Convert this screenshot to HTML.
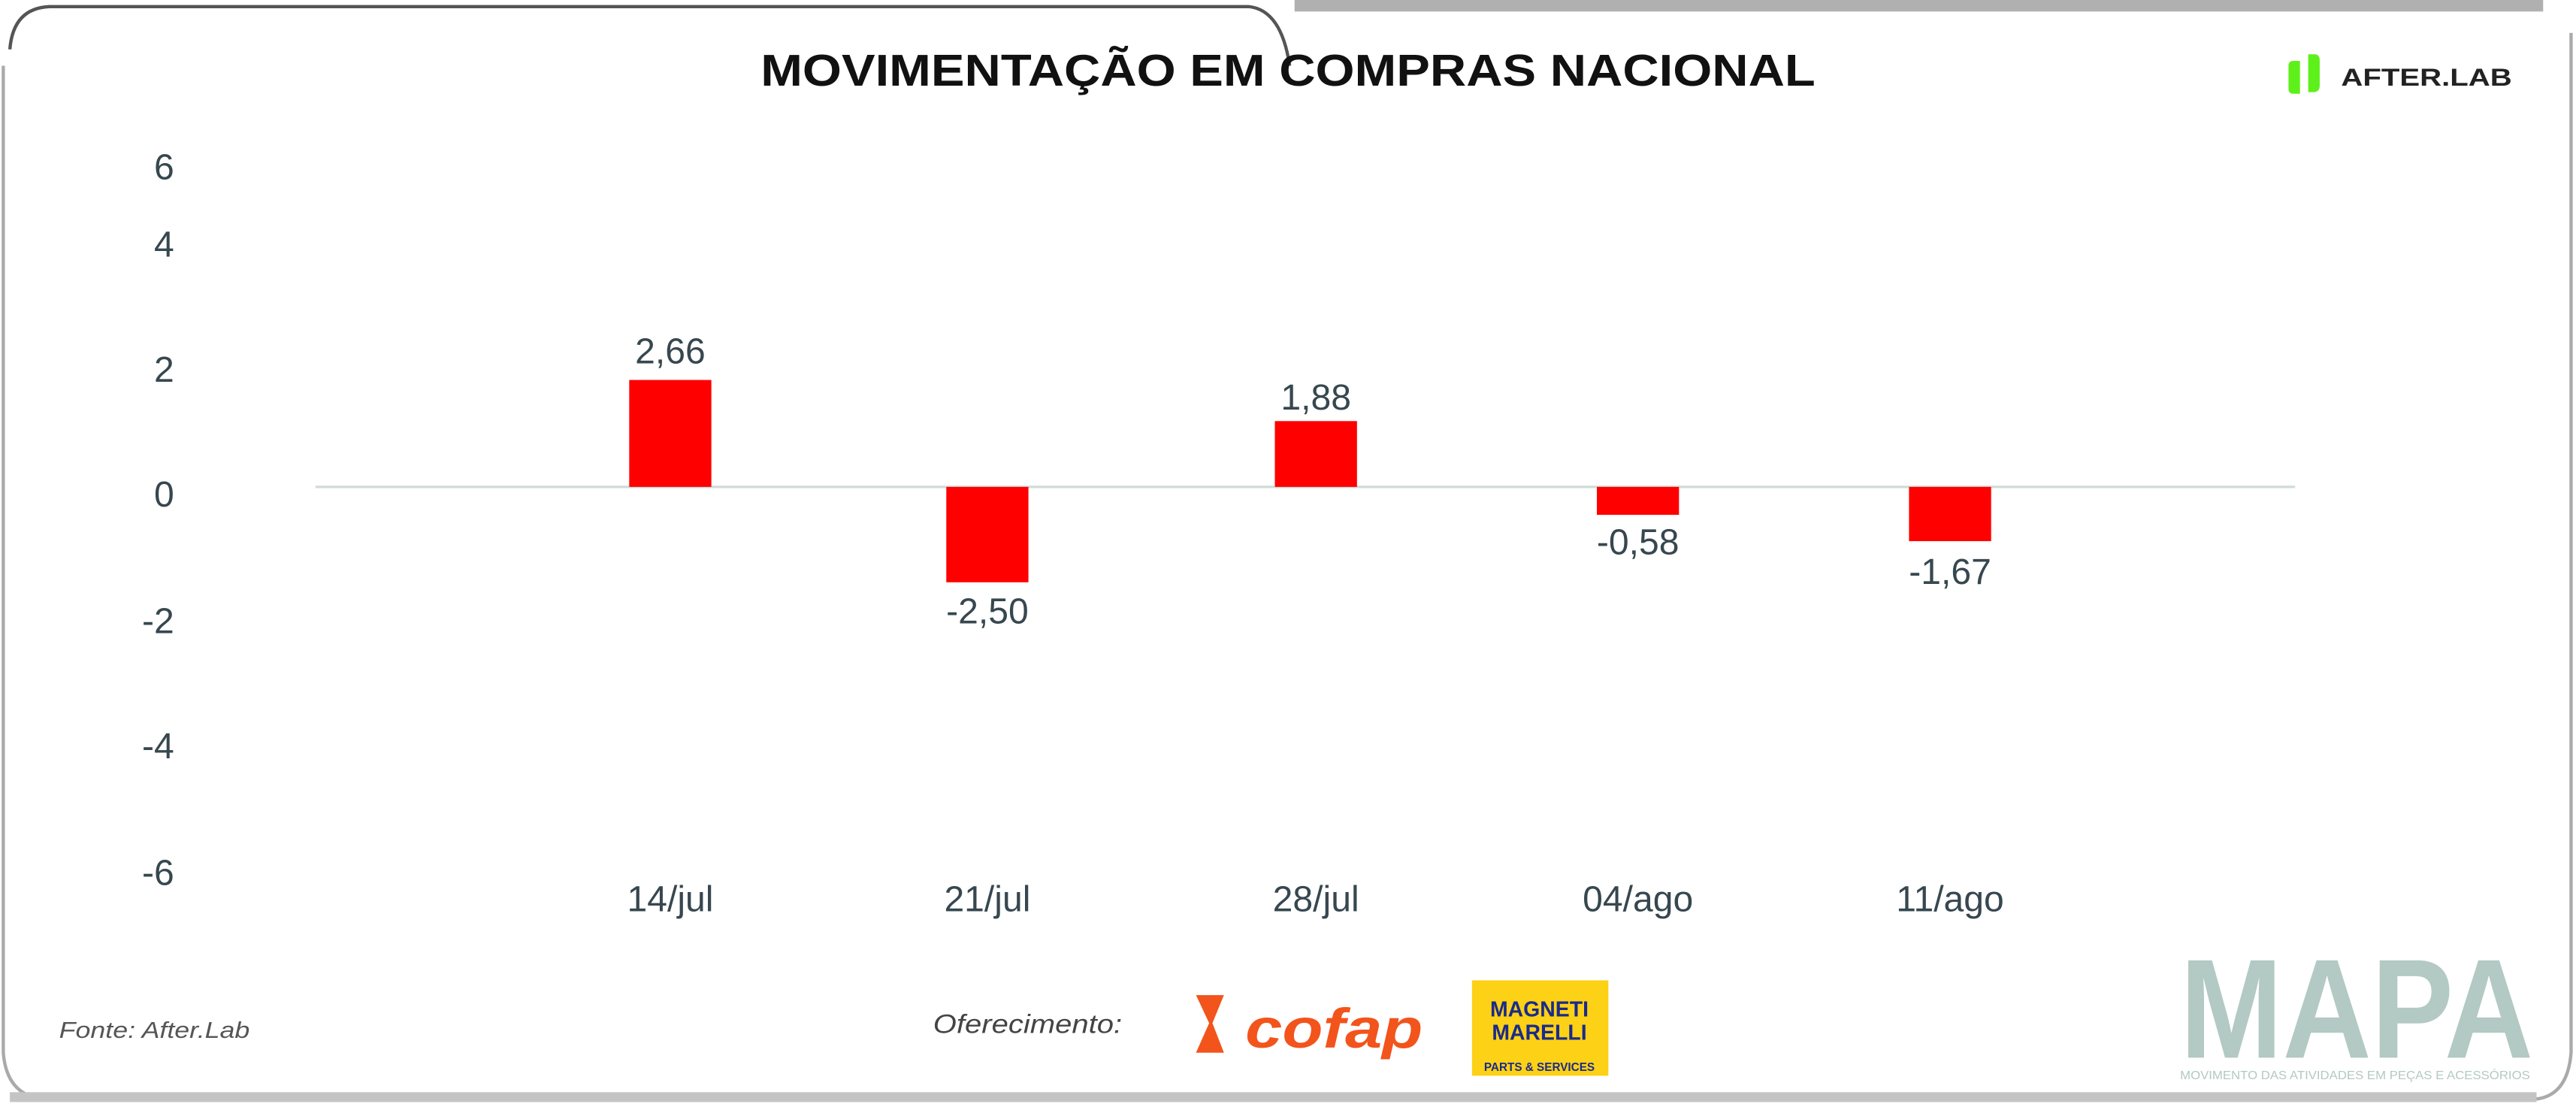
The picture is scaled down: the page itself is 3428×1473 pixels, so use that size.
<!DOCTYPE html>
<html><head><meta charset="utf-8"><style>
html,body{margin:0;padding:0;background:#fff;}
svg{display:block;}
</style></head><body>
<svg width="3428" height="1473" viewBox="0 0 1568 673" preserveAspectRatio="none" xmlns="http://www.w3.org/2000/svg">
<rect x="0" y="0" width="1568" height="673" fill="#fff"/>
<!-- frame -->
<rect x="788" y="0" width="760" height="7" fill="#b0b0b0"/>
<path d="M6,30 Q8,5 30,4 L760,4 Q780,6 785,40" fill="none" stroke="#555" stroke-width="2"/>
<path d="M2,40 L2,640 Q4,665 25,668 L1545,668 Q1563,665 1565,640 L1565,20" fill="none" stroke="#aaa" stroke-width="2"/>
<rect x="6" y="664" width="1538" height="6" fill="#c4c4c4"/>
<!-- title -->
<text x="463" y="52" font-family="Liberation Sans, sans-serif" font-weight="bold" font-size="27" fill="#111" textLength="642" lengthAdjust="spacingAndGlyphs">MOVIMENTAÇÃO EM COMPRAS NACIONAL</text>
<!-- logo -->
<path d="M1400,37 L1396,37 Q1393,37 1393,40 L1393,54 Q1393,57 1396,57 L1400,57 Z" fill="#5ef01a"/>
<path d="M1405,33 L1409,33 Q1412,33 1412,37 L1412,52 Q1412,56 1408,56 L1405,56 Z" fill="#5ef01a"/>
<text x="1425" y="52" font-family="Liberation Sans, sans-serif" font-weight="bold" font-size="15" fill="#222" textLength="104" lengthAdjust="spacingAndGlyphs">AFTER.LAB</text>
<!-- y axis -->
<g font-family="Liberation Sans, sans-serif" font-size="22" fill="#37474f" text-anchor="end">
<text x="106" y="109">6</text>
<text x="106" y="156">4</text>
<text x="106" y="232">2</text>
<text x="106" y="308">0</text>
<text x="106" y="385">-2</text>
<text x="106" y="461">-4</text>
<text x="106" y="538">-6</text>
</g>
<line x1="192" y1="296" x2="1397" y2="296" stroke="#d0dcd8" stroke-width="1.5"/>
<!-- bars -->
<g fill="#ff0000">
<rect x="383" y="231" width="50" height="65"/>
<rect x="576" y="296" width="50" height="58"/>
<rect x="776" y="256" width="50" height="40"/>
<rect x="972" y="296" width="50" height="17"/>
<rect x="1162" y="296" width="50" height="33"/>
</g>
<g font-family="Liberation Sans, sans-serif" font-size="22" fill="#37474f" text-anchor="middle">
<text x="408" y="221">2,66</text>
<text x="601" y="379">-2,50</text>
<text x="801" y="249">1,88</text>
<text x="997" y="337">-0,58</text>
<text x="1187" y="355">-1,67</text>
<text x="408" y="554">14/jul</text>
<text x="601" y="554">21/jul</text>
<text x="801" y="554">28/jul</text>
<text x="997" y="554">04/ago</text>
<text x="1187" y="554">11/ago</text>
</g>
<!-- footer -->
<text x="36" y="631" font-family="Liberation Sans, sans-serif" font-style="italic" font-size="14" fill="#555" textLength="116" lengthAdjust="spacingAndGlyphs">Fonte: After.Lab</text>
<text x="568" y="628" font-family="Liberation Sans, sans-serif" font-style="italic" font-size="16" fill="#444" textLength="115" lengthAdjust="spacingAndGlyphs">Oferecimento:</text>
<polygon points="728,605 745,605 738,622 745,640 728,640 736,622" fill="#f2541b"/>
<text x="758" y="637" font-family="Liberation Sans, sans-serif" font-weight="bold" font-style="italic" font-size="34" fill="#f2541b" textLength="108" lengthAdjust="spacingAndGlyphs">cofap</text>
<rect x="896" y="596" width="83" height="58" fill="#fcd116"/>
<text x="937" y="618" text-anchor="middle" font-family="Liberation Sans, sans-serif" font-weight="bold" font-size="13" fill="#1a2a8a">MAGNETI</text>
<text x="937" y="632" text-anchor="middle" font-family="Liberation Sans, sans-serif" font-weight="bold" font-size="13" fill="#1a2a8a">MARELLI</text>
<text x="937" y="651" text-anchor="middle" font-family="Liberation Sans, sans-serif" font-weight="bold" font-size="7" fill="#1a2a8a">PARTS &amp; SERVICES</text>
<text x="1327" y="643" font-family="Liberation Sans, sans-serif" font-weight="bold" font-size="86" fill="#b3c9c3" textLength="215" lengthAdjust="spacingAndGlyphs">MAPA</text>
<text x="1327" y="656" font-family="Liberation Sans, sans-serif" font-size="7" fill="#b3c9c3" textLength="213" lengthAdjust="spacingAndGlyphs">MOVIMENTO DAS ATIVIDADES EM PEÇAS E ACESSÓRIOS</text>
</svg>
</body></html>
